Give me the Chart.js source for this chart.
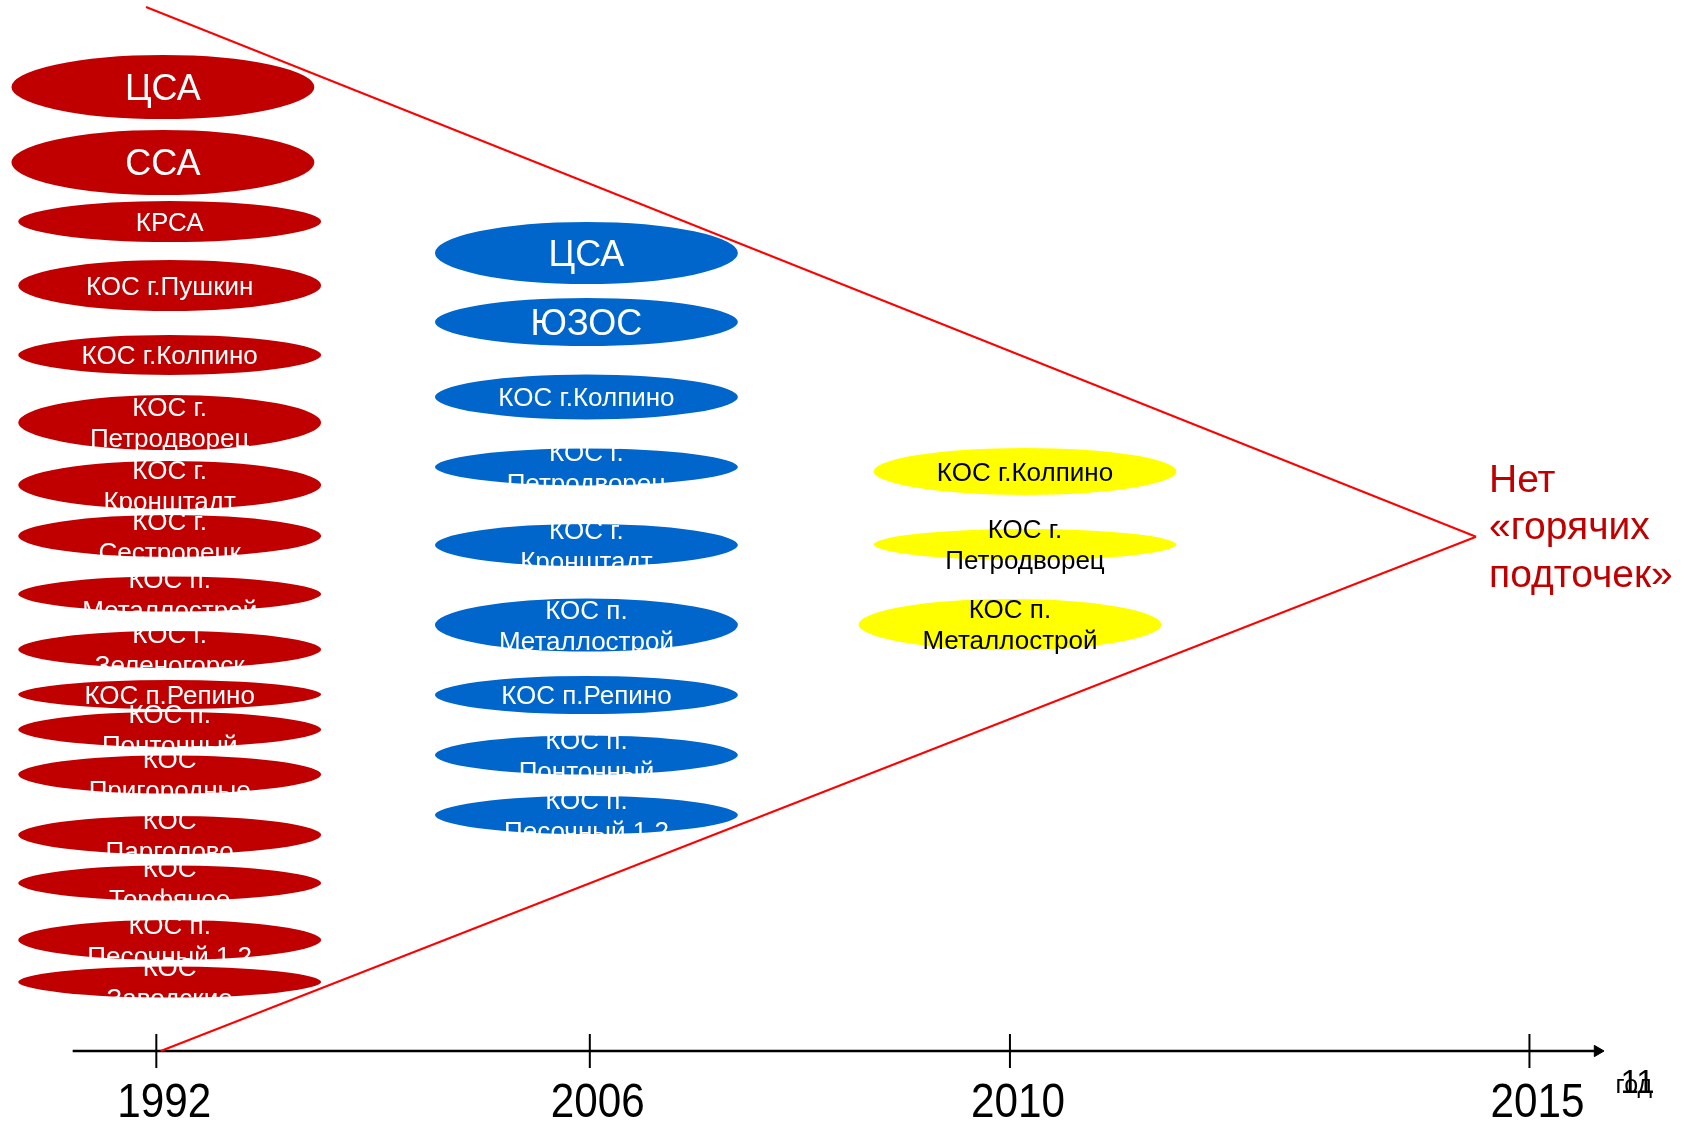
<!DOCTYPE html>
<html lang="ru">
<head>
<meta charset="utf-8">
<title>Нет «горячих подточек»</title>
<script src="https://cdn.jsdelivr.net/npm/chart.js@4.4.1/dist/chart.umd.min.js"></script>
<style>
  html, body { margin: 0; padding: 0; background: #ffffff; }
  canvas { display: block; }
</style>
</head>
<body>
<canvas id="timelineChart" width="1690" height="1122"></canvas>
<script>
// x: 0..100 across the slide, y: 0..100 from the time axis up to the top edge
const years = ['1992', '2006', '2010', '2015'];
const yearPos = [9.25, 34.9, 59.76, 90.5];

const plants1992 = ['ЦСА', 'ССА', 'КРСА', 'КОС г.Пушкин', 'КОС г.Колпино', 'КОС г.\nПетродворец',
    'КОС г.\nКронштадт', 'КОС г.\nСестрорецк', 'КОС п.\nМеталлострой', 'КОС г.\nЗеленогорск',
    'КОС п.Репино', 'КОС п.\nПонтонный', 'КОС\nПригородные', 'КОС\nПарголово', 'КОС\nТорфяное',
    'КОС п.\nПесочный 1,2', 'КОС\nЗаводские'];
const x1992 = [9.64, 9.64, 10.04, 10.04, 10.04, 10.04, 10.04, 10.04, 10.04, 10.04, 10.04, 10.04, 10.04, 10.04, 10.04, 10.04, 10.04];
const y1992 = [91.72, 84.54, 78.92, 72.84, 66.22, 59.80, 53.85, 49.00, 43.48, 38.20, 33.92, 30.59, 26.31, 20.55, 15.98, 10.56, 6.57];

const plants2006 = ['ЦСА', 'ЮЗОС', 'КОС г.Колпино', 'КОС г.\nПетродворец', 'КОС г.\nКронштадт',
    'КОС п.\nМеталлострой', 'КОС п.Репино', 'КОС п.\nПонтонный', 'КОС п.\nПесочный 1,2'];
const x2006 = [34.7, 34.7, 34.7, 34.7, 34.7, 34.7, 34.7, 34.7, 34.7];
const y2006 = [75.93, 69.36, 62.23, 55.57, 48.14, 40.53, 33.87, 28.16, 22.45];

const plants2010 = ['КОС г.Колпино', 'КОС г.\nПетродворец', 'КОС п.\nМеталлострой'];
const x2010 = [60.65, 60.65, 59.76];
const y2010 = [55.14, 48.19, 40.58];

const triangleTop = [[8.64, 99.33], [87.34, 48.93]];
const triangleBottom = [[9.51, 0], [87.34, 48.93]];
const axisRange = [4.3, 94.53];
const conclusion = 'Нет\n«горячих\nподточек»';
const axisUnit = 'год';
const slideNumber = '11';

// sizes and styles
const ovalHalfWidth = 9.08;
const halfH1992 = [3.24, 3.28, 2.14, 2.62, 2.09, 2.81, 2.47, 2.19, 1.86, 1.95, 1.57, 1.86, 2.0, 2.0, 1.86, 2.09, 1.67];
const halfH2006 = [3.14, 2.47, 2.33, 1.95, 2.19, 2.71, 2.0, 2.05, 2.0];
const halfH2010 = [2.43, 1.67, 2.62];
const bigLabels = ['ЦСА', 'ССА', 'ЮЗОС'];
const FONT = '"Liberation Sans", Arial, sans-serif';

function toPoints(xs, ys) {
    return xs.map((x, i) => ({ x: x, y: ys[i] }));
}

function ovalDataset(label, names, xs, ys, halfHeights, fill, textColor) {
    return {
        label: label,
        data: toPoints(xs, ys),
        names: names,
        halfHeights: halfHeights,
        backgroundColor: fill,
        textColor: textColor,
        pointRadius: 0,
        showLine: false,
        clip: false
    };
}

// ellipses and their captions are painted one after another, like slide shapes
const ovalPlugin = {
    id: 'ovals',
    beforeDatasetsDraw(chart) {
        const { ctx, scales: { x, y } } = chart;
        const rx = x.getPixelForValue(ovalHalfWidth) - x.getPixelForValue(0);
        chart.data.datasets.forEach((ds, di) => {
            if (!ds.halfHeights) return;
            const meta = chart.getDatasetMeta(di);
            meta.data.forEach((pt, i) => {
                const ry = y.getPixelForValue(0) - y.getPixelForValue(ds.halfHeights[i]);
                ctx.save();
                ctx.beginPath();
                ctx.ellipse(pt.x, pt.y, rx - 1, ry - 1, 0, 0, Math.PI * 2);
                ctx.fillStyle = ds.backgroundColor;
                ctx.fill();
                ctx.lineWidth = 2;
                ctx.strokeStyle = '#ffffff';
                ctx.stroke();

                const name = ds.names[i];
                const lines = name.split('\n');
                const size = bigLabels.includes(name) ? 36 : 26;
                const lineH = 31;
                ctx.font = `${size}px ${FONT}`;
                ctx.fillStyle = ds.textColor;
                ctx.textAlign = 'center';
                ctx.textBaseline = 'alphabetic';
                const first = pt.y - (lines.length - 1) * lineH / 2;
                lines.forEach((line, k) => {
                    ctx.fillText(line, pt.x, first + k * lineH + size * 0.35);
                });
                ctx.restore();
            });
        });
    }
};

const timelinePlugin = {
    id: 'timelineText',
    afterDatasetsDraw(chart) {
        const { ctx, scales: { x, y } } = chart;
        const axisY = y.getPixelForValue(0);
        ctx.save();
        ctx.fillStyle = '#000000';
        ctx.textAlign = 'center';
        ctx.textBaseline = 'alphabetic';
        years.forEach((yr, i) => {
            ctx.save();
            ctx.translate(x.getPixelForValue(yearPos[i]) + 8, axisY + 66);
            ctx.scale(0.88, 1);
            ctx.font = `48px ${FONT}`;
            ctx.fillText(yr, 0, 0);
            ctx.restore();
        });

        const tipX = x.getPixelForValue(axisRange[1]);
        ctx.textAlign = 'left';
        ctx.font = `25px ${FONT}`;
        ctx.fillText(axisUnit, tipX + 18, axisY + 42);
        ctx.textAlign = 'center';
        ctx.font = `33px ${FONT}`;
        ctx.fillText(slideNumber, tipX + 40, axisY + 42);

        // conclusion next to the apex of the triangle
        const apexX = x.getPixelForValue(triangleTop[1][0]);
        const apexY = y.getPixelForValue(triangleTop[1][1]);
        ctx.textAlign = 'left';
        ctx.fillStyle = '#C00000';
        ctx.font = `39px ${FONT}`;
        conclusion.split('\n').forEach((line, k) => {
            ctx.fillText(line, apexX + 13, apexY - 45 + k * 47.5);
        });
        ctx.restore();
    }
};

const ctx = document.getElementById('timelineChart').getContext('2d');
new Chart(ctx, {
    type: 'scatter',
    data: {
        datasets: [
            ovalDataset('1992', plants1992, x1992, y1992, halfH1992, '#C00000', '#ffffff'),
            ovalDataset('2006', plants2006, x2006, y2006, halfH2006, '#0066CC', '#ffffff'),
            ovalDataset('2010', plants2010, x2010, y2010, halfH2010, '#FFFF00', '#000000'),
            {
                label: 'Граница сверху',
                data: triangleTop.map(p => ({ x: p[0], y: p[1] })),
                showLine: true,
                borderColor: '#FF0000',
                borderWidth: 2,
                pointRadius: 0,
                clip: false
            },
            {
                label: 'Граница снизу',
                data: triangleBottom.map(p => ({ x: p[0], y: p[1] })),
                showLine: true,
                borderColor: '#FF0000',
                borderWidth: 2,
                pointRadius: 0,
                clip: false
            },
            {
                label: 'Ось времени',
                data: axisRange.map(v => ({ x: v, y: 0 })),
                showLine: true,
                borderColor: '#000000',
                borderWidth: 2.5,
                pointRadius: [0, 6.5],
                pointStyle: 'triangle',
                rotation: 90,
                pointBackgroundColor: '#000000',
                pointBorderColor: '#000000',
                pointBorderWidth: 1,
                clip: false
            },
            {
                label: 'Годы',
                data: yearPos.map(v => ({ x: v, y: 0 })),
                showLine: false,
                pointStyle: 'line',
                rotation: 90,
                pointRadius: 17,
                pointBorderColor: '#000000',
                pointBorderWidth: 2,
                clip: false
            }
        ]
    },
    options: {
        responsive: false,
        animation: false,
        devicePixelRatio: 1,
        events: [],
        layout: { autoPadding: false, padding: { left: 0, right: 0, top: 0, bottom: 71 } },
        scales: {
            x: { type: 'linear', min: 0, max: 100, display: false },
            y: { type: 'linear', min: 0, max: 100, display: false }
        },
        plugins: {
            legend: { display: false },
            tooltip: { enabled: false }
        }
    },
    plugins: [ovalPlugin, timelinePlugin]
});
</script>
</body>
</html>
